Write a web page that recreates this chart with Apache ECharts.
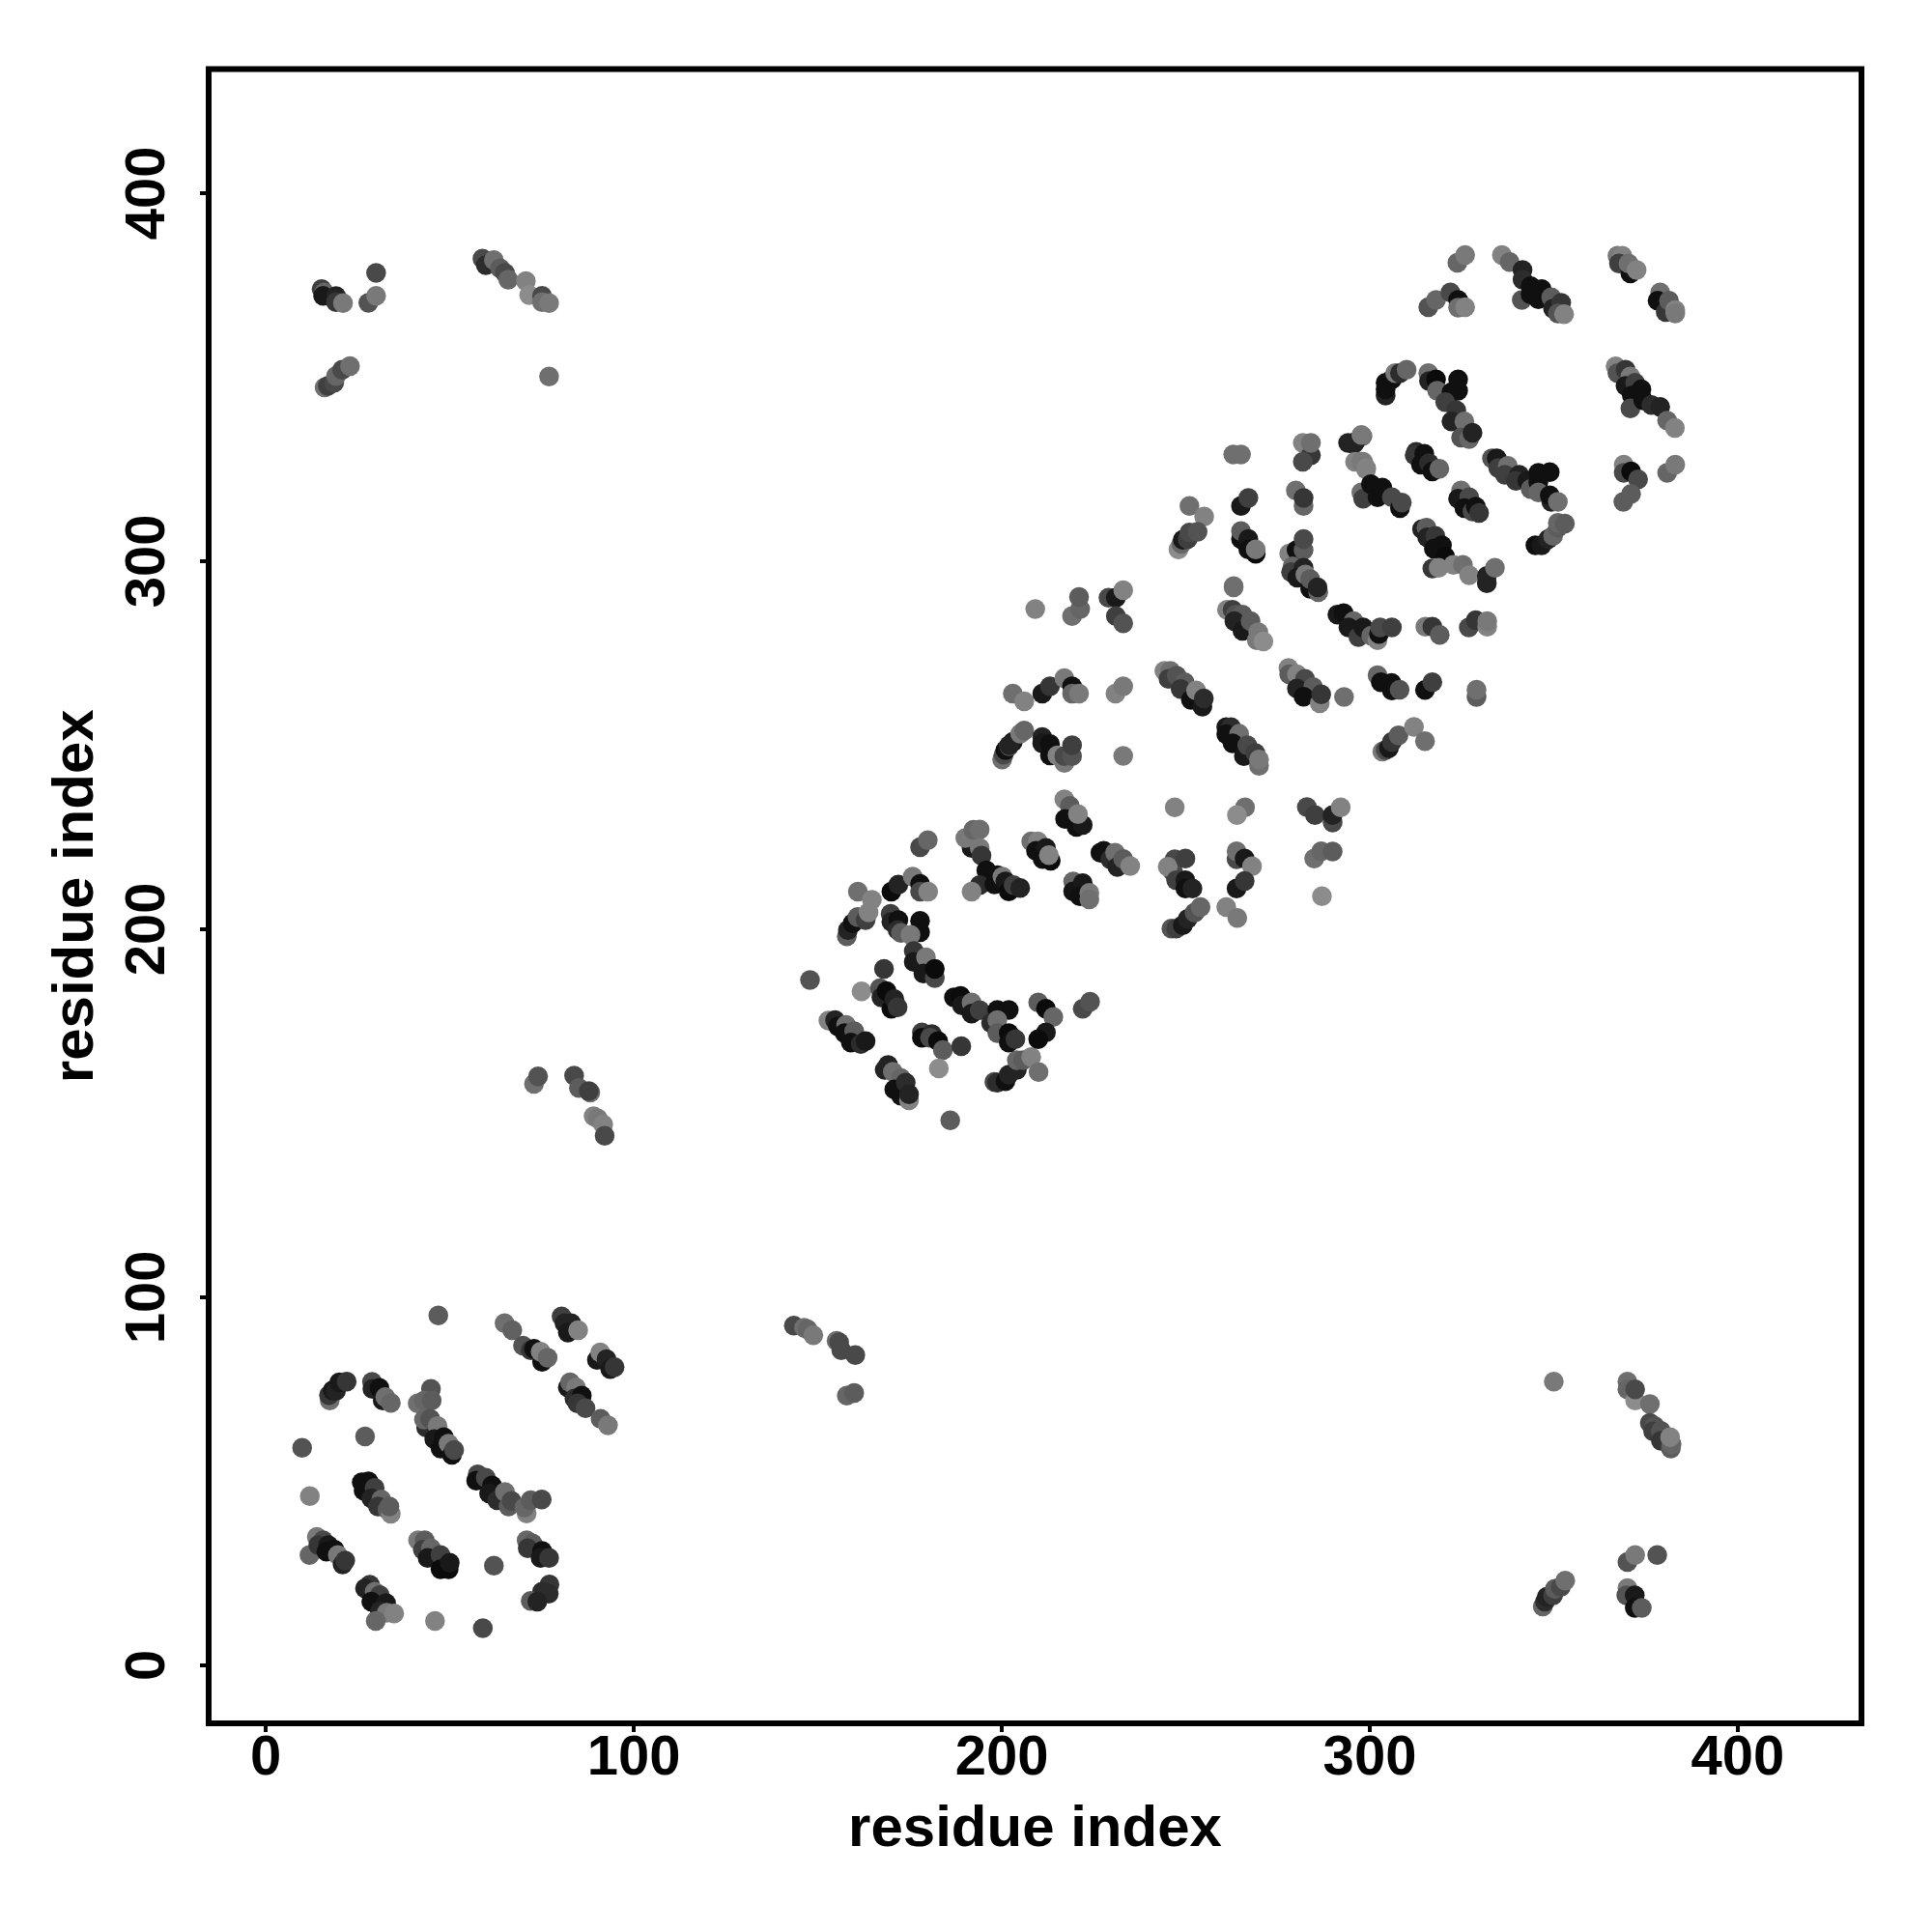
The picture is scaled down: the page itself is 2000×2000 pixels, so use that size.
<!DOCTYPE html>
<html><head><meta charset="utf-8">
<style>html,body{margin:0;padding:0;background:#fff}#c{width:2000px;height:2000px}</style>
<script src="https://cdn.jsdelivr.net/npm/echarts@6/dist/echarts.min.js"></script>
</head><body><div id="c"></div>
<script>
// each contact: [residue i, residue j, intensity]
const xTicks=[0,100,200,300,400];
const yTicks=[0,100,200,300,400];
const axisTitle='residue index';
const lowerLeft=[
[46.9,95.1,90],[64.9,93,110],[67,91.1,95],
[80.4,94.8,60],[81.2,93,30],[83,93,30],[82.1,90.4,20],[84.9,91.1,130],
[69.9,86.9,80],[72,85.6,50],[72.9,86,10],[75.1,82.5,10],[74.7,85.2,130],[76.6,83.6,100],
[90,83,20],[90.9,85,130],[92.6,83.2,30],[93.6,80.5,20],[94.8,81,50],
[82.1,75.5,20],[82.7,76.9,100],[84.3,75.5,120],[83.9,72.5,40],[85.9,73.3,10],[84.7,71.2,50],[86.9,69.9,70],[91,67,90],[93,65.2,120],
[17.4,72,110],[17.2,73.4,50],[18.2,74.7,20],[19.1,74.6,30],[20,76.9,20],[22,77.1,50],
[28.9,77,70],[29,75.1,30],[30.9,75.4,10],[31.8,72,20],[32.5,72.9,110],[34,71.3,100],
[44.9,75.1,80],[41.3,71.2,110],[43,71.9,100],[45.1,72,90],
[43.6,64.6,40],[43,66.8,100],[44.7,67,80],[46.7,65,120],[45.8,61.5,20],[48.4,62,10],[47.5,58.9,10],[49.7,60.2,120],[50.6,57.2,10],[51.2,58.5,70],
[27,62.2,90],[9.9,59.1,80],[12,46,130],
[26.1,49.7,10],[27.9,50,10],[26.6,47.5,10],[29.6,48.2,60],[28.7,45.4,30],[31.4,45.1,100],[30.5,43.2,50],[33.1,42.3,90],[34,41.2,130],[33.6,43.2,90],
[57.6,51.9,70],[57.2,50.2,10],[59.8,51,70],[61.5,48.9,10],[60.7,46.7,20],[62.9,44.9,40],[65,47.1,110],[66,43.2,90],[66.8,44.7,70],
[70.9,41.3,130],[70.3,42.9,100],[72,44.9,90],[75,45.1,70],
[13.9,34.9,120],[11.9,30,100],[15.6,34,70],[14.3,32.7,50],[17,32.7,20],[16.5,30.9,10],[18.7,31.4,10],[19.6,30,120],[20.9,27.4,30],[21.6,28.5,50],
[41.4,34,120],[43.2,34,90],[42.7,31.4,60],[44.9,31.8,100],[44,29.2,20],[47.5,30,60],[47.5,26.1,5],[49.7,26.1,5],[50,27.9,20],
[62,27.1,80],
[70.9,34,100],[72.5,33.1,90],[71.2,31.8,50],[75.1,31.1,10],[74.7,29.2,20],[77,29.2,50],
[77.1,22,50],[76.9,19.5,40],[75.1,20,40],[72,17.5,90],[73.8,17.3,30],
[28.3,21.9,50],[27,20.9,30],[29.6,20,110],[31,19.1,60],[28.7,17.3,10],[32.7,16.9,20],[31,14.7,30],[32.9,14.3,120],[34.9,14.1,130],[29.9,12.1,100],
[46,12.1,130],[59,10.1,70]
];
const lowerMiddle=[
[143.5,92.3,70],[146.3,91.7,110],[147.2,91.3,100],[148.8,89.7,120],[155.1,88.2,110],[155.8,87.8,70],[156.4,85.6,70],[160.2,84.3,70],[157.9,73.3,100],[159.9,74,90]
];
const middleLeft=[
[72.9,158,110],[74,160,80],[83.8,160.2,70],[85.1,156.9,90],[88.2,155.6,110],[87.8,156,60],[89.1,149.2,130],[90.2,148.6,120],[91.7,147,130],[92.1,143.9,70]
];
const lowerRight=[
[350,77.1,120],[370,77.1,110],[370,75,100],[372.1,72,140],[372.1,75,70],[376.1,71,110],[376.1,65.9,70],[377.4,65,80],[377,63.6,60],[379.1,63.7,80],[379.1,61,50],[381.8,58.9,90],[382,60.1,100],[381.6,62,130],
[370,28.1,80],[372.1,30,120],[378.1,30,80],
[347,16,100],[347.6,17.3,40],[348.1,18.6,30],[349.8,19,60],[350.3,20.8,90],[351.9,21.3,70],[353.1,23,110],
[370,21,120],[369.7,19,80],[372,19,20],[372,15.6,10],[373.9,15.6,90]
];
const upperLeft=[
[15.2,373.9,60],[15.9,373,100],[15.6,372.1,20],[19.1,372,30],[19.1,370.4,50],[21,370.1,120],[30,378.3,70],[27.9,370.2,80],[30,372.1,120],
[16,347.2,110],[16.9,347.6,60],[18.6,348.5,70],[19.1,350.3,100],[20.8,352,70],[22.9,353,110],
[58.9,382.2,70],[59.8,380.4,40],[62,381.8,110],[63.7,379.6,90],[65,378.3,70],[65.9,376.5,100],[70.7,376.1,130],[71.6,372.3,140],[75.1,372.1,70],[75.1,370.4,110],[77,370.1,120],[77,350.2,110]
];
const diagonalLow=[
[147.9,186.2,80],[168,189.2,50],[161.9,183.1,140],
[166.9,184,80],[167.3,181.5,30],[168.7,183.2,5],[170,178.4,5],[170.8,181,30],[171.7,178.8,50],
[152.9,175.2,130],[154.7,175.3,30],[155.5,173.6,10],[157.7,174,110],[157.3,171.8,10],[159.9,172.3,90],[159,169.2,10],[161.7,168.8,40],[163,169.6,20],
[178.3,172,60],[178.3,170.5,5],[181,171.5,40],[180.5,170.5,70],[182.7,169.6,5],[184,167.2,90],[189,168.2,50],[182.9,162.2,140],
[169.1,163.1,30],[168.2,161.8,30],[170.4,161.3,110],[172.6,159.6,100],[170.8,156.5,10],[172.6,154.8,10],[173.9,158.3,40],[174.8,153.5,130],[174.8,155.2,30],
[186,148.1,90],
[198,158.5,70],[198.8,158.3,40],[201,158.7,10],[201.9,160.5,30],[204.1,161.8,30],[204.1,164.4,100],[205.8,164.4,90],[208,165.3,130],[210,161.2,110],
[187,181.5,10],[188.8,181.9,5],[189.2,179.3,20],[191.8,180.1,110],[191.8,177.1,20],[194,178,60],[198.8,178.1,10],[201.9,178.1,10],[197.1,174.5,40],[198.8,175.3,110],[198.8,171.8,90],[201.9,171.8,5],[201.9,169.2,10],[203.7,170.1,50],
[209.9,180.1,90],[212,178.4,5],[214,176.2,100],[212,172,20],[209.9,170.1,5],[222,178.4,70],[224,180.3,80]
];
const diagonalMid=[
[191.8,222.1,20],[190.1,224.8,120],[192.3,227,100],[194,227.1,110],[194,222.1,120],[194.5,220,50],[195.8,216,10],[194,212,40],[191.8,210.2,130],[198,212.2,10],[198.8,214.7,10],[200.2,214.3,120],[201,213,20],[201.9,210.3,5],[203.2,212,60],[205,211.2,30],
[177.8,222.3,70],[179.9,224.2,100],
[157.9,198.1,90],[158.2,199.8,30],[159.5,201.6,10],[160.8,203.3,90],[163,202.5,60],[160.9,210.2,110],[163.8,204.6,130],[164.7,208,130],
[170,210.2,5],[171.9,212.1,30],[175.8,214.3,120],[177.8,212.3,10],[177.8,210.2,70],[180,210.2,130],
[169.8,204.2,60],[170,202,30],[171.9,202.5,10],[171.7,199.8,40],[172.6,199,90],[177.8,202.3,10],[177.8,199.2,10],[175.2,198.5,120],[176.1,194.1,50],[176.1,191.1,20],[179.4,192.4,120],[178.7,188,20],[181.8,186.7,70],[181.8,189.2,5],
[208,223.9,110],[209.8,223.9,130],[209.3,221.3,10],[212,222.1,20],[211.1,219.1,10],[213.3,218.6,5],[212.8,220.1,130],
[219.4,213,100],[219.4,210.3,15],[222,212.5,20],[221.2,209,10],[223.8,209.9,120],[223.8,208.1,110],
[217,235.3,130],[218.5,233.5,90],[217.2,230,10],[220.3,227.8,10],[222,228.3,20],[220.7,231.3,130],
[227.7,221.3,15],[226.8,220.8,10],[229.5,219,40],[230.8,220.8,110],[231.4,216.9,30],[233,219.1,90],[234.9,217.2,130],
[247,233.1,130],[266.1,233.1,110],[263.9,231,140],
[246.1,200.2,80],[247.4,200.2,60],[249.2,201.1,20],[250.5,202.8,30],[252.4,204.5,80],[254,206,100],[261,206,130],[264,203.1,120],
[246.6,215.5,70],[247,219,70],[245.1,217,130],[249.9,219.2,60],[247.4,213.3,60],[249.9,213.3,20],[249.9,211.1,10],[251.8,211.1,30],
[263.8,219,70],[263.8,221.2,110],[266,219.2,20],[268,217.1,130],[263.8,211.1,20],[266,213.1,50],
[282.9,233.2,70],[285.1,231,60],[289.9,229,70],[289.9,231,30],[292.1,233.1,130],
[284.9,219.2,110],[286.8,221.2,100],[289.9,221.1,90],[287,209,140]
];
const diagonalHigh=[
[200.1,246.1,110],[200.5,247.4,70],[201,248.7,10],[202,249.7,90],[203,250.9,20],[202,250,30],[205,253.1,120],[206.1,254,100],
[211,252.2,30],[211,250.5,20],[213.1,250.3,10],[213.1,247.2,10],[215.1,247.2,130],[217,245.2,120],[217,247,70],[219.1,247,80],[219.1,250,60],[233,247.1,120],
[203,264,110],[206.1,261.9,130],[211,264,20],[213.1,266,50],[217,268.2,120],[219.1,266,10],[219.1,264,100],[221,264,120],[230.9,264,130],[233,266,120],
[209.1,287,130],[219.1,285.1,110],[221.3,287,100],[221,290.3,90],[229,290.1,70],[231,290.1,20],[233,292.1,130],[231,285.1,60],[233,283.1,80],
[244.2,270.2,130],[245.8,270.2,110],[245.3,268,60],[247.5,268.9,80],[249.7,267.1,90],[248.6,265.3,50],[251.4,262.3,10],[252.8,264.9,130],[254.5,260.5,20],[254.9,262.7,40],
[261,254.9,20],[262.3,254.9,40],[261,253,10],[264.5,253.1,110],[262.7,250.5,10],[265.8,247,20],[266.7,250,70],[268.9,247.9,60],[269.9,244.4,110],[269.9,246.1,120],
[263,292.9,110],[261.2,286.8,130],[262.7,286.8,60],[263.6,285.5,80],[265.4,285.5,90],[263.2,283.7,30],[265.4,281.1,20],[267.6,283.7,90],[269.7,280.7,120],[269.3,278.5,120],[271.1,278.2,140],
[277.9,271,130],[278.1,269.3,90],[280.2,269.3,130],[282.4,268,70],[280.2,265.4,30],[284.6,265.8,90],[282,263.2,10],[286.4,261.4,130],[286.8,263.8,50],[293,263.1,110],
[291.2,285.5,20],[292.9,285.9,10],[295.6,283.7,100],[294.2,282,20],[296.9,279.4,60],[298.2,282,20],[300.4,279.8,100],[302.1,278.5,130],[302.5,280.2,10],[302.8,282,70],[306,282,60],
[315.1,282.2,120],[317,282.2,50],[319,280,90],[326.9,282,70],[328.8,284,50],[331.9,282.2,130],[331.9,283.7,120],
[302.1,269,100],[303,267.1,10],[305.9,266.9,10],[306,264.9,10],[308.1,265.1,80],[315,265,10],[317,267.1,60],[329,263.1,90],[329,265.1,110],
[303.4,248.3,120],[304.3,248.7,70],[305.2,249.2,20],[306,250.9,50],[307.8,252.7,90],[312,255,130],[315,251.1,110]
];
const upperDiagonal=[
[262.9,329,110],[265,329,110],
[281.8,332.1,130],[284,328.8,50],[281.8,327,70],[284,332.1,110],
[294.1,332.1,30],[295.6,331.8,30],[298,334,110],[296,327,130],[298.2,327,130],[299,324.9,130],
[251,315,110],[255,312.1,130],[265,315,20],[267,317.2,60],
[279.9,319.2,110],[282,315,100],[282,317.2,50],
[248,303.2,140],[248.8,304.7,100],[249.2,305.8,20],[250.5,306,60],[251,307.8,70],[253.2,308,80],
[265,306,10],[265,308.2,90],[267,306,20],[267,303.2,10],[269,302,5],[269,303.2,120],
[278.1,302.1,130],[280.1,303,10],[282,303,90],[282,306,70],
[263,293.2,110],
[279,298.6,100],[278.6,297,60],[282,298.2,30],[280.3,295.5,20],[282.5,296.4,120],[283.8,292.5,10],[283.8,295.1,90],[286,291.6,100],[285.8,292.9,30],
[296,332.3,30],[297.7,334.3,120],
[297.7,327,120],[299,325.3,130],[297.7,318.7,110],[298.2,317,60],[300.3,320.9,10],[302.1,317.4,10],[303.4,320,10],[306,317.4,70],[308.2,314.4,10],[308.7,315.9,70],
[312.6,329.7,40],[312.2,328.8,50],[314.8,329.2,10],[313.9,326.2,10],[316.1,326.6,40],[317,324.4,10],[318.9,325.1,100],
[333.2,327.9,80],[334.5,327.9,20],[334.9,325.3,60],[337.5,325.9,110],[336.7,323.5,60],[340.6,323.5,30],[339.7,321.8,50],[342.8,321.8,20],[343.7,319.6,90],[345.8,324,10],[348.9,324.2,10],[345.8,321.4,10],[345.8,318.7,100],[349.3,316.1,30],[348.9,317.9,10],[351.1,316.1,110],
[324.8,319.2,110],[324,317,20],[327,317.4,70],[325.7,314.4,10],[327.9,313.5,70],[328.8,314.8,10],[329.7,313.1,50],
[345,304.3,10],[346.7,304.3,20],[348.5,306,30],[349.8,306.9,100],[351.1,309.1,90],[351.1,310.4,100],[353,310.2,90],
[314.2,308.7,30],[315.4,309.1,90],[315.6,306.5,30],[317.8,306.9,50],[317.4,303.4,10],[319.6,304.3,10],[320.5,301.2,5],[317,298,50],[318.7,298.2,130],[322.7,299,130],[325.3,299,110],[327,296.2,130],[331.8,294,30],[331.8,296,30],[334,298.2,110],
[304.3,345,30],[304.3,346.7,10],[304.3,348.5,10],[306,349.4,10],[306.9,351.1,120],[308.2,351.1,40],[310,352,100],
[315.9,351.1,110],[316.1,348.9,30],[318,349.4,5],[318.3,346.3,100],[322.2,345.9,10],[324,349.4,10],[324,346.3,10],[320.5,343.2,60],[323.5,341,50],[322.2,338,30],[325.7,338,110],[324.8,333.6,80],[327,333.2,100],[327.9,334.9,30],
[323.8,381.1,100],[325.9,383.2,120],
[315.9,369,80],[318,371,100],[321.9,373,70],[324,371,10],[324,368.9,110],[325.9,369,130],
[335.9,383.2,130],[338,381.3,100],[341.5,379.1,30],[341.5,376.5,40],[341.3,371,80],[343.7,374.7,10],[343.7,372.5,10],[346.7,373.9,10],[345.8,371.2,10],[349.3,371.7,90],[349.8,368.6,30],[352,370.2,50],[351.1,367.3,80],[352.8,367.1,130],
[367.3,383,120],[368.6,383,130],[367.7,380.9,60],[370.8,378.2,10],[370.3,380.9,110],[372.5,379.1,130],
[378.9,373,110],[378.2,370.8,10],[380.4,367.7,50],[381.3,370.8,90],[383,368.2,130],[383,367.3,120],
[366.8,352.9,130],[367.3,351.1,80],[369.5,352,50],[370.8,350.2,120],[369.5,347.6,20],[372.1,348.5,60],[371.2,345,10],[373.8,346.7,10],[370.8,341.5,70],[374.3,343.7,10],[376.5,342.4,40],[378.9,341.9,30],[380.8,338.2,100],[382.9,336.2,130],
[369,326.2,130],[369,324,70],[371,324.4,5],[372.9,322.2,70],[371,318.3,90],[368.9,316.1,90],[380.8,324,100],[383,326.2,120]
];
const contacts=[].concat(lowerLeft,lowerMiddle,middleLeft,lowerRight,upperLeft,diagonalLow,diagonalMid,diagonalHigh,upperDiagonal);
const chart=echarts.init(document.getElementById('c'),null,{renderer:'canvas'});
const font='"Liberation Sans", Arial, sans-serif';
function axis(ticks,extra,labelExtra){
  return Object.assign({
    type:'value',name:axisTitle,nameLocation:'middle',
    nameTextStyle:{fontFamily:font,fontWeight:'bold',fontSize:60,color:'#000'},
    splitLine:{show:false},
    axisLine:{show:false,onZero:false},
    axisTick:{show:true,length:9,customValues:ticks,lineStyle:{color:'#000',width:4}},
    axisLabel:Object.assign({show:true,customValues:ticks,fontFamily:font,fontWeight:'bold',fontSize:58,color:'#000',hideOverlap:false},labelExtra)
  },extra);
}
chart.setOption({
  animation:false,
  backgroundColor:'#fff',
  grid:{show:true,left:216,right:73,top:71.5,bottom:216,borderColor:'#000',borderWidth:6,backgroundColor:'transparent'},
  xAxis:axis(xTicks,{min:-15.5,max:433.6,nameGap:80},{margin:8}),
  yAxis:axis(yTicks,{min:-15.75,max:433.7,nameGap:107,nameRotate:90},{margin:33,rotate:90}),
  visualMap:{show:false,type:'continuous',dimension:2,min:0,max:140,inRange:{color:['#060606','#8c8c8c']}},
  series:[{type:'scatter',data:contacts,symbol:'circle',symbolSize:20.5,itemStyle:{opacity:1},silent:true}]
});
</script></body></html>
